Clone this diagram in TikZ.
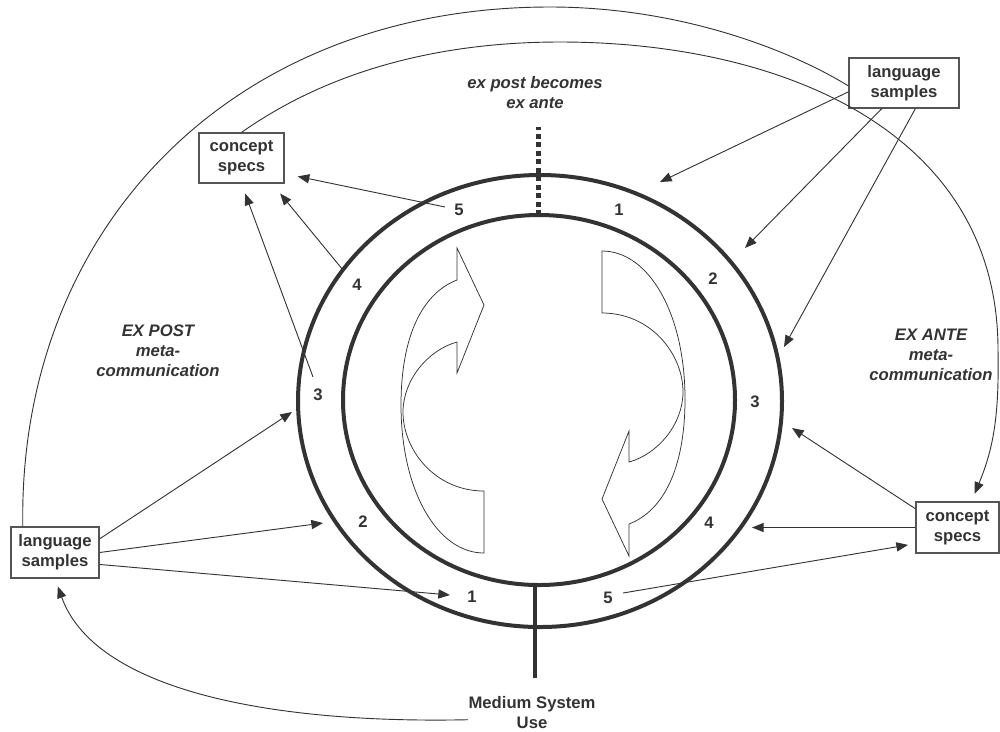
\documentclass[tikz,border=0pt]{standalone}
\usepackage{fontspec}
\setmainfont{Liberation Sans}
\usetikzlibrary{arrows.meta}
\definecolor{ink}{HTML}{333333}
\definecolor{frame}{HTML}{555555}

\begin{document}
\begin{tikzpicture}[x=0.6pt,y=-0.6pt,
  every node/.style={text=ink, font=\bfseries, align=center},
  box/.style={draw=frame, line width=0.7pt, inner sep=0pt},
  ring/.style={draw=ink, line width=2.4pt},
  link/.style={draw=ink, line width=0.55pt},
  arr/.style={link, -{Triangle[length=7pt,width=5.5pt]}},
  caption/.style={font=\bfseries\itshape},
  swirl/.style={draw=ink, line width=0.45pt}]

\useasboundingbox (0,0) rectangle (1000,731);

% the two rings of the cycle
\draw[ring] (540,401) ellipse [x radius=242, y radius=226];
\draw[ring] (539,400) ellipse [x radius=196, y radius=185];

% dotted divider at the top, solid stem at the bottom
\coordinate (dtop) at (538,127);
\coordinate (dbot) at (538,215);
\draw[draw=ink, line width=3pt, dash pattern=on 3pt off 2.1pt] (dbot) -- (dtop);
\coordinate (stemtop) at (535,585);
\coordinate (stembot) at (535,678);
\draw[draw=ink, line width=2.2pt] (stemtop) -- (stembot);

% circular arrows inside the rings
\foreach \ang in {0,180}{
  \draw[swirl, rotate around={\ang:(543,402)}]
    (484,553) .. controls (437,553) and (401,490) .. (401,405)
    .. controls (401,335) and (423,293) .. (457,280)
    -- (457,248) -- (484,305) -- (457,373) -- (457,342)
    .. controls (428,350) and (403,380) .. (403,412)
    .. controls (403,450) and (435,491) .. (484,491) -- cycle;
}

% captions
\node[caption] (expost) at (535,93) {ex post becomes\\ex ante};
\node[caption] (postmeta) at (158,351) {EX POST\\meta-\\communication};
\node[caption] (antemeta) at (931,355) {EX ANTE\\meta-\\communication};
\node[inner sep=0pt] (msu) at (532,713) {Medium System\\Use};

% boxes
\node[box, minimum width=51pt, minimum height=30pt] (csTL) at (241.5,158) {concept\\specs};
\node[box, minimum width=66pt, minimum height=30pt] (lsTR) at (904,83) {language\\samples};
\node[box, minimum width=52.8pt, minimum height=30.6pt] (lsBL) at (55,552.5) {language\\samples};
\node[box, minimum width=49.8pt, minimum height=30.6pt] (csR) at (957.5,527.5) {concept\\specs};

% ring labels
\node (t5) at (459,210) {5};
\node (t1) at (619,210) {1};
\node (r2l) at (713,279) {2};
\node (r3l) at (755,402) {3};
\node (r4l) at (709,523) {4};
\node (b5) at (608,598) {5};
\node (b1) at (472,597) {1};
\node (l4) at (357,285) {4};
\node (l3) at (318,395) {3};
\node (l2) at (363,522) {2};

% language samples (top right) to the ex ante side
\coordinate (p1) at (660,182);
\coordinate (p2) at (745,248);
\coordinate (p3) at (784,347);
\draw[arr] (lsTR.189) -- (p1);
\draw[arr] (lsTR.229) -- (p2);
\draw[arr] (lsTR.294) -- (p3);

% concept specs (right)
\coordinate (q3) at (792,428);
\coordinate (q4) at (752,527.5);
\coordinate (q5) at (623,593);
\draw[arr] (csR.156) -- (q3);
\draw[arr] (csR.west) -- (q4);
\draw[arr, shorten >=4.5pt] (q5) -- (csR.201);

% language samples (bottom left) to the cycle
\coordinate (r3) at (292,412);
\coordinate (r2) at (323,523);
\coordinate (r1) at (450,595);
\draw[arr] (lsBL.17) -- (r3);
\draw[arr] (lsBL.east) -- (r2);
\draw[arr] (lsBL.-15) -- (r1);

% ex post side to concept specs (top left)
\coordinate (s5) at (445,207);
\coordinate (s4) at (343,270);
\coordinate (s3) at (313,377);
\draw[arr, shorten >=8pt] (s5) -- (csTL.-20);
\draw[arr, shorten >=7.7pt] (s4) -- (csTL.-40);
\draw[arr, shorten >=6.4pt] (s3) -- (csTL.south);

% long arcs
\draw[link] (lsBL.141) .. controls (18,230) and (230,7) .. (550,7)
  .. controls (680,7) and (790,50) .. (lsTR.183);
\draw[arr, shorten >=5pt] (csTL.north) .. controls (330,70) and (440,42) .. (560,42)
  .. controls (780,42) and (998,130) .. (998,350)
  .. controls (999,410) and (995,445) .. (csR.62);
\draw[arr, shorten >=5pt] (msu.186) .. controls (270,724) and (95,690) .. (lsBL.south);

\end{tikzpicture}
\end{document}
